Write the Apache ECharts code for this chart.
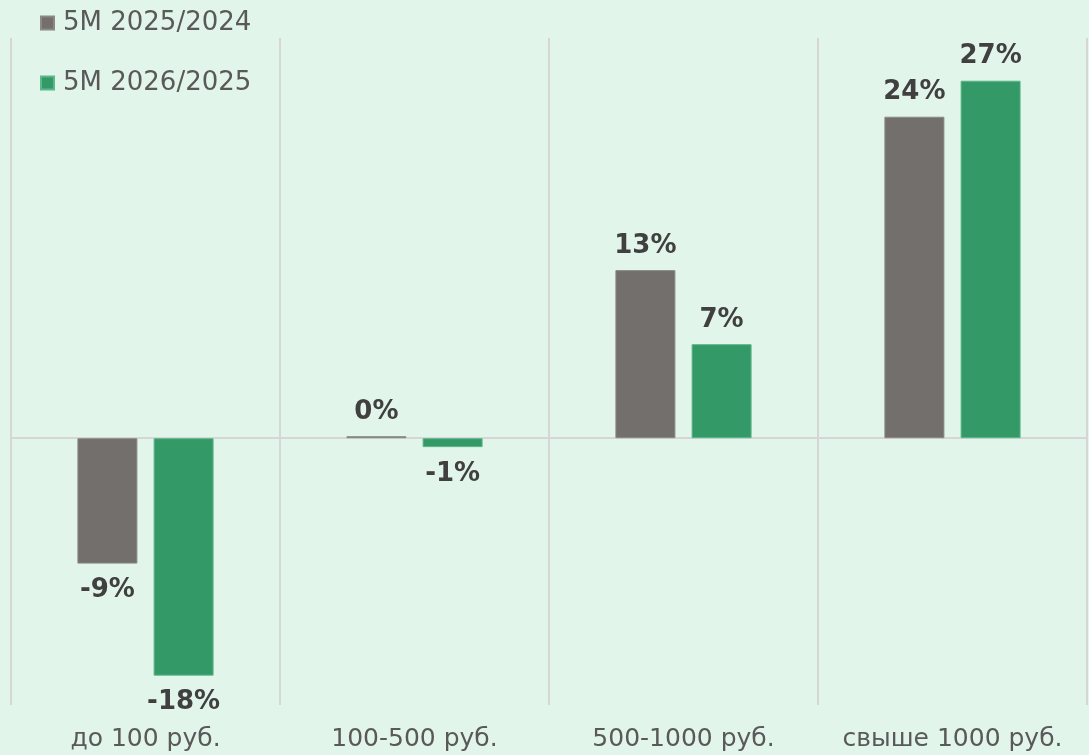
<!DOCTYPE html>
<html>
<head>
<meta charset="utf-8">
<script src="https://cdn.jsdelivr.net/npm/echarts@6/dist/echarts.min.js"></script>
<style>
  html, body { margin: 0; padding: 0; background: #e2f5eb; }
  #chart { width: 1089px; height: 755px; }
</style>
</head>
<body>
<div id="chart"></div>
<script>
// категории и значения (в %)
const categories = ['до 100 руб.', '100-500 руб.', '500-1000 руб.', 'свыше 1000 руб.'];
const seriesNames = ['5M 2025/2024', '5M 2026/2025'];
const values2025 = [-9.4, 0.15, 12.6, 24.1];
const values2026 = [-17.8, -0.67, 7.05, 26.8];

const colors = ['#736f6c', '#339966'];
const borders = ['#8c8885', '#5cb78a'];

// метка сверху для положительных, снизу для отрицательных
const toData = (arr) => arr.map((v) => ({
	value: v,
	label: { position: v < 0 ? 'bottom' : 'top', distance: v < 0 ? 14 : 11 },
}));

const makeSeries = (name, arr, i) => ({
	name: name,
	type: 'bar',
	data: toData(arr),
	barWidth: 60,
	barGap: '27%',
	itemStyle: { color: colors[i], borderColor: borders[i], borderWidth: 1 },
	label: {
		show: true,
		color: '#404040',
		fontFamily: 'DejaVu Sans',
		fontWeight: 'bold',
		fontSize: 26,
		formatter: (p) => Math.round(p.value) + '%',
	},
});

const chart = echarts.init(document.getElementById('chart'));

chart.setOption({
	backgroundColor: '#e2f5eb',
	animation: false,
	color: colors,
	legend: {
		orient: 'vertical',
		left: 35,
		top: 5,
		itemWidth: 13,
		itemHeight: 13,
		itemGap: 34,
		icon: 'rect',
		textStyle: { color: '#595959', fontFamily: 'DejaVu Sans', fontSize: 26, lineHeight: 26, padding: [0, 0, 0, 4] },
		data: seriesNames,
	},
	grid: { left: 11, right: 2, top: 38, bottom: 50 },
	xAxis: {
		type: 'category',
		data: categories,
		axisLine: { show: true, onZero: true, lineStyle: { color: '#d6d6d6', width: 2 } },
		axisTick: { show: false, interval: 0 },
		axisLabel: {
			interval: 0,
			color: '#595959',
			fontFamily: 'DejaVu Sans',
			fontSize: 25,
			margin: 22,
		},
		splitLine: { show: true, interval: 0, lineStyle: { color: '#d6d6d6', width: 2 } },
	},
	yAxis: {
		type: 'value',
		min: -20,
		max: 30,
		interval: 10,
		show: false,
		splitLine: { show: false },
	},
	series: [makeSeries(seriesNames[0], values2025, 0), makeSeries(seriesNames[1], values2026, 1)],
});
</script>
</body>
</html>
